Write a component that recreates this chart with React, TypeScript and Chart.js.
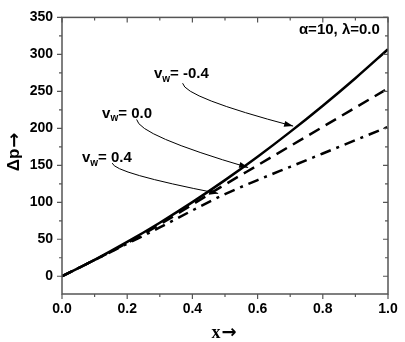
import React, { useEffect, useRef } from "react";
import { Chart, registerables } from "chart.js";

Chart.register(...registerables);

// ---- data ----
const xValues = [0, 0.1, 0.2, 0.3, 0.4, 0.5, 0.6, 0.7, 0.8, 0.9, 1.0];
const pVwNeg04 = [0, 22.2, 46.4, 72.4, 100.2, 130, 161.6, 195.2, 230.6, 267.8, 307];
const pVw00 = [0, 22, 45, 70, 97, 124, 150, 176, 202, 228, 254];
const pVw04 = [0, 22, 44, 66, 89, 111, 130, 148, 166, 184, 202];

const xTicks = [0, 0.2, 0.4, 0.6, 0.8, 1.0];
const xMinorTicks = [0.1, 0.3, 0.5, 0.7, 0.9];
const yTicks = [0, 50, 100, 150, 200, 250, 300, 350];
const yMinorTicks = [25, 75, 125, 175, 225, 275, 325];

const labelValues = ["-0.4", "0.0", "0.4"];
const labelX = [0.282, 0.123, 0.061];
const labelY = [273, 220, 160];
const arrowStartX = [0.37, 0.229, 0.154];
const arrowStartY = [261, 212, 153];
const arrowEndX = [0.709, 0.571, 0.479];
const arrowEndY = [203, 147, 112];

const paramText = "\u03b1=10, \u03bb=0.0";
const paramX = 0.975;
const paramY = 333;

const SANS = "'Liberation Sans', Arial, sans-serif";
const SERIF = "'Liberation Serif', 'Times New Roman', serif";
const ARROWFONT = "'DejaVu Sans', sans-serif";
const ARROW = "\u2192";

const decorPlugin = {
  id: "decor",
  afterDatasetsDraw(chart: any) {
    const { ctx, chartArea, scales } = chart;
    const { left, right, top, bottom } = chartArea;
    const xs = scales.x;
    const ys = scales.y;
    ctx.save();

    // frame
    ctx.strokeStyle = "#555";
    ctx.lineWidth = 1.5;
    ctx.strokeRect(left, top, right - left, bottom - top);

    // ticks
    const major = 5;
    const minor = 3;
    ctx.lineWidth = 1.2;
    ctx.beginPath();
    const xt = (v: number, len: number) => {
      const px = xs.getPixelForValue(v);
      ctx.moveTo(px, bottom);
      ctx.lineTo(px, bottom + len);
      ctx.moveTo(px, top);
      ctx.lineTo(px, top + len);
    };
    const yt = (v: number, len: number) => {
      const py = ys.getPixelForValue(v);
      ctx.moveTo(left, py);
      ctx.lineTo(left - len, py);
      ctx.moveTo(right, py);
      ctx.lineTo(right - len, py);
    };
    xTicks.forEach((v) => xt(v, major));
    xMinorTicks.forEach((v) => xt(v, minor));
    yTicks.forEach((v) => yt(v, major));
    yMinorTicks.forEach((v) => yt(v, minor));
    ctx.stroke();

    // arrows
    ctx.strokeStyle = "#000";
    ctx.fillStyle = "#000";
    ctx.lineWidth = 1;
    for (let i = 0; i < labelValues.length; i++) {
      const sx = xs.getPixelForValue(arrowStartX[i]);
      const sy = ys.getPixelForValue(arrowStartY[i]);
      const ex = xs.getPixelForValue(arrowEndX[i]);
      const ey = ys.getPixelForValue(arrowEndY[i]);
      const cx = sx + 2;
      const cy = sy + (ey - sy) * 0.33;
      ctx.beginPath();
      ctx.moveTo(sx, sy);
      ctx.quadraticCurveTo(cx, cy, ex, ey);
      ctx.stroke();
      const ang = Math.atan2(ey - cy, ex - cx);
      const L = 9;
      const W = 3;
      ctx.beginPath();
      ctx.moveTo(ex, ey);
      ctx.lineTo(ex - L * Math.cos(ang) + W * Math.sin(ang), ey - L * Math.sin(ang) - W * Math.cos(ang));
      ctx.lineTo(ex - L * Math.cos(ang) - W * Math.sin(ang), ey - L * Math.sin(ang) + W * Math.cos(ang));
      ctx.closePath();
      ctx.fill();

      // label v_w= value
      let tx = xs.getPixelForValue(labelX[i]);
      const ty = ys.getPixelForValue(labelY[i]);
      ctx.textBaseline = "middle";
      ctx.textAlign = "left";
      ctx.font = `bold 15px ${SANS}`;
      ctx.fillText("v", tx, ty);
      tx += ctx.measureText("v").width;
      ctx.font = `bold 10px ${SANS}`;
      ctx.fillText("w", tx, ty + 5);
      tx += ctx.measureText("w").width;
      ctx.font = `bold 15px ${SANS}`;
      ctx.fillText("= " + labelValues[i], tx, ty);
    }

    // parameter text
    ctx.font = `bold 15px ${SANS}`;
    ctx.textAlign = "right";
    ctx.textBaseline = "middle";
    ctx.fillText(paramText, xs.getPixelForValue(paramX), ys.getPixelForValue(paramY));

    // y axis title: "Δp" + heavy arrow, rotated
    ctx.save();
    ctx.translate(14, 152);
    ctx.rotate(-Math.PI / 2);
    ctx.textBaseline = "middle";
    ctx.textAlign = "left";
    ctx.font = `bold 17px ${SANS}`;
    const w1 = ctx.measureText("\u0394p").width;
    ctx.font = `bold 18px ${ARROWFONT}`;
    const w2 = ctx.measureText(ARROW).width;
    const total = w1 + 1 + w2;
    ctx.font = `bold 17px ${SANS}`;
    ctx.fillText("\u0394p", -total / 2, 0);
    ctx.font = `bold 18px ${ARROWFONT}`;
    ctx.fillText(ARROW, -total / 2 + w1 + 1, 1);
    ctx.restore();

    // x axis title: "x" + heavy arrow
    ctx.textBaseline = "middle";
    ctx.textAlign = "left";
    ctx.font = `bold 18px ${SERIF}`;
    const xw1 = ctx.measureText("x").width;
    ctx.font = `bold 18px ${ARROWFONT}`;
    const xw2 = ctx.measureText(ARROW).width;
    const xtot = xw1 + 1 + xw2;
    const xc = (left + right) / 2 - 1;
    ctx.font = `bold 18px ${SERIF}`;
    ctx.fillText("x", xc - xtot / 2, 333);
    ctx.font = `bold 18px ${ARROWFONT}`;
    ctx.fillText(ARROW, xc - xtot / 2 + xw1 + 1, 333);

    ctx.restore();
  },
};

export default function App() {
  const canvasRef = useRef<HTMLCanvasElement | null>(null);

  useEffect(() => {
    if (!canvasRef.current) return;
    const mk = (arr: number[]) => xValues.map((x, i) => ({ x, y: arr[i] }));
    const chart = new Chart(canvasRef.current, {
      type: "line",
      data: {
        datasets: [
          {
            label: "vw=0.4",
            data: mk(pVw04),
            borderColor: "#000",
            borderWidth: 2.5,
            borderDash: [11, 6, 3, 6],
            pointRadius: 0,
            cubicInterpolationMode: "monotone",
            fill: false,
          },
          {
            label: "vw=0.0",
            data: mk(pVw00),
            borderColor: "#000",
            borderWidth: 2.5,
            borderDash: [12, 7],
            pointRadius: 0,
            cubicInterpolationMode: "monotone",
            fill: false,
          },
          {
            label: "vw=-0.4",
            data: mk(pVwNeg04),
            borderColor: "#000",
            borderWidth: 2.5,
            pointRadius: 0,
            cubicInterpolationMode: "monotone",
            fill: false,
          },
        ],
      },
      options: {
        animation: false,
        responsive: true,
        maintainAspectRatio: false,
        layout: { padding: { left: 0, top: 15, right: 17, bottom: 0 } },
        plugins: { legend: { display: false }, tooltip: { enabled: false }, title: { display: false } },
        scales: {
          x: {
            type: "linear",
            min: 0,
            max: 1,
            grid: { display: false, drawTicks: false },
            border: { display: false },
            afterFit: (s: any) => {
              s.height = 48;
            },
            afterBuildTicks: (s: any) => {
              s.ticks = xTicks.map((v) => ({ value: v }));
            },
            ticks: {
              padding: 7,
              color: "#000",
              font: { family: SANS, size: 14, weight: "bold" },
              callback: (v: any) => Number(v).toFixed(1),
              maxRotation: 0,
            },
          },
          y: {
            type: "linear",
            min: -24,
            max: 350,
            grid: { display: false, drawTicks: false },
            border: { display: false },
            afterFit: (s: any) => {
              s.width = 62;
            },
            afterBuildTicks: (s: any) => {
              s.ticks = yTicks.map((v) => ({ value: v }));
            },
            ticks: {
              padding: 9,
              color: "#000",
              font: { family: SANS, size: 14, weight: "bold" },
              callback: (v: any) => String(v),
            },
          },
        },
      },
      plugins: [decorPlugin],
    });
    return () => chart.destroy();
  }, []);

  return (
    <div style={{ position: "absolute", left: 0, top: 0, width: 405, height: 342, background: "#fff" }}>
      <canvas ref={canvasRef} />
    </div>
  );
}
